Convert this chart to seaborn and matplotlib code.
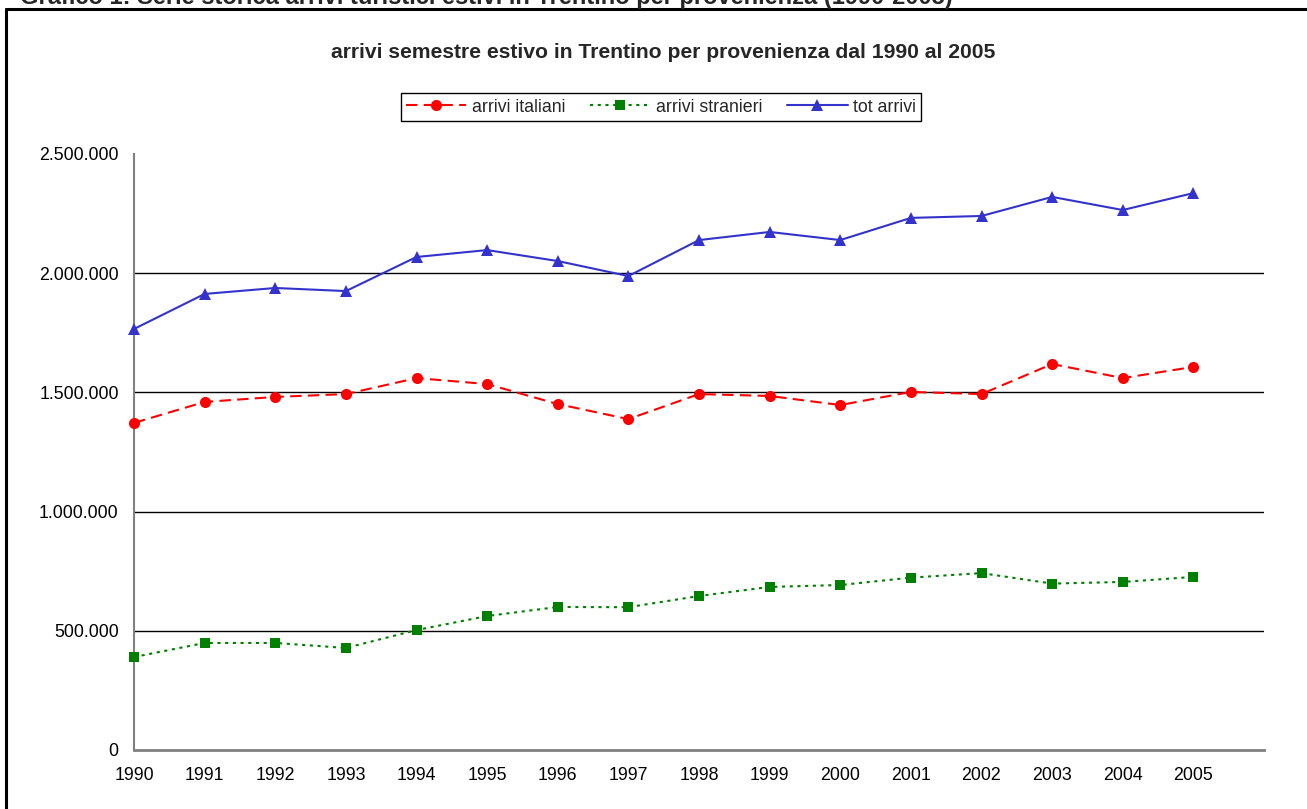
import matplotlib
matplotlib.use("Agg")
import matplotlib.pyplot as plt
import seaborn as sns
import numpy as np
from matplotlib.ticker import FuncFormatter, FixedLocator
from matplotlib.lines import Line2D

# Summer-semester arrivals in Trentino, 1990-2005
years = [str(y) for y in range(1990, 2006)]
arrivi_italiani = [1372000, 1460000, 1481000, 1493000, 1560000, 1535000, 1451000, 1388000,
                   1493000, 1485000, 1447000, 1502000, 1493000, 1619000, 1560000, 1607000]
arrivi_stranieri = [390000, 449000, 449000, 428000, 503000, 562000, 600000, 599000,
                    646000, 684000, 692000, 723000, 742000, 698000, 705000, 726000]
tot_arrivi = [1766000, 1913000, 1938000, 1925000, 2068000, 2097000, 2051000, 1988000,
              2139000, 2173000, 2139000, 2232000, 2240000, 2320000, 2265000, 2336000]
y_ticks = [0, 500000, 1000000, 1500000, 2000000, 2500000]

sns.set_style("white")
plt.rcParams['font.family'] = ['Liberation Sans', 'DejaVu Sans']

W, H = 1307, 809
fig = plt.figure(figsize=(W / 100, H / 100), dpi=100)
ax = fig.add_axes([134 / W, 1 - 750 / H, (1264 - 134) / W, (750 - 154) / H])

pos = np.arange(len(years))
sns.lineplot(x=pos, y=arrivi_italiani, ax=ax, color='#FF0000', lw=1.5,
             linestyle=(0, (5.5, 3)), marker='o', markersize=8, markeredgewidth=0,
             label='arrivi italiani', clip_on=False, zorder=3)
sns.lineplot(x=pos, y=arrivi_stranieri, ax=ax, color='#008000', lw=1.5,
             linestyle=(0, (1.5, 2.2)), marker='s', markersize=7, markeredgewidth=0,
             label='arrivi stranieri', clip_on=False, zorder=3)
sns.lineplot(x=pos, y=tot_arrivi, ax=ax, color='#3333CC', lw=1.5,
             linestyle='-', marker='^', markersize=8.5, markeredgewidth=0,
             label='tot arrivi', clip_on=False, zorder=3)

ax.set_xlim(0, len(years))
ax.set_ylim(0, 2500000)
ax.xaxis.set_major_locator(FixedLocator(list(pos) + [len(years)]))
ax.set_xticklabels(years + [''])
ax.yaxis.set_major_locator(FixedLocator(y_ticks))
ax.yaxis.set_major_formatter(FuncFormatter(lambda v, p: f"{int(v):,}".replace(",", ".")))

for s in ['top', 'right']:
    ax.spines[s].set_visible(False)
ax.spines['left'].set_color('#808080')
ax.spines['left'].set_linewidth(1.5)
ax.spines['bottom'].set_color('#808080')
ax.spines['bottom'].set_linewidth(2)
ax.tick_params(axis='both', direction='out', length=5, width=1.2, color='#808080',
               labelsize=12.8, labelcolor='black')
ax.tick_params(axis='y', pad=6)
ax.tick_params(axis='x', pad=7)

# horizontal gridlines between 500.000 and 2.000.000
for v in y_ticks[1:-1]:
    ax.axhline(v, color='black', lw=1, zorder=0.5)

ax.set_xlabel('')
ax.set_ylabel('')

leg = ax.legend(loc='center', bbox_to_anchor=(661 / W, 1 - 107 / H),
                bbox_transform=fig.transFigure, ncol=3, fontsize=12.8,
                frameon=True, fancybox=False, edgecolor='black', framealpha=1,
                handlelength=3.4, columnspacing=1.4, handletextpad=0.3,
                borderpad=0.3, borderaxespad=0)
leg.get_frame().set_linewidth(1)

fig.text(663 / W, 1 - 52 / H, 'arrivi semestre estivo in Trentino per provenienza dal 1990 al 2005',
         ha='center', va='center', fontsize=15.2, fontweight='bold')

fig.text(20 / W, 1 - 4 / H,
         'Grafico 1: Serie storica arrivi turistici estivi in Trentino per provenienza (1990-2005)',
         ha='left', va='baseline', fontsize=17, fontweight='bold')

# outer frame (open to the right and bottom)
fig.add_artist(Line2D([6 / W, 1.01], [1 - 9 / H, 1 - 9 / H], transform=fig.transFigure,
                      color='black', lw=2.2))
fig.add_artist(Line2D([6 / W, 6 / W], [-0.01, 1 - 9 / H], transform=fig.transFigure,
                      color='black', lw=2.2))

fig.savefig('out.png', dpi=100)
